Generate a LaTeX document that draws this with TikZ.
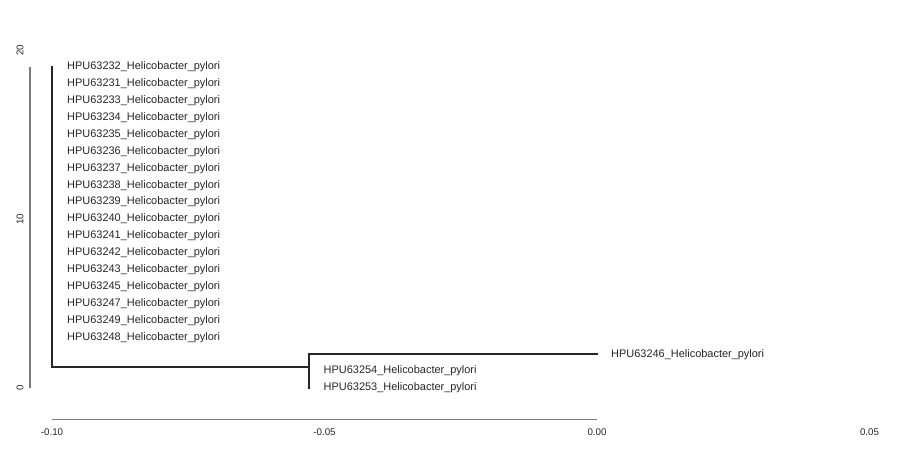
\documentclass[tikz,border=0pt]{standalone}
\usepackage{fontspec}
\setmainfont{Liberation Sans}
\definecolor{treec}{HTML}{262626}
\definecolor{axisc}{HTML}{7A7A7A}
\definecolor{textc}{HTML}{262626}
\begin{document}
\begin{tikzpicture}[x=1bp,y=16.9bp,
  tree/.style={line width=2.2bp, draw=treec, line cap=rect},
  axisl/.style={line width=1.4bp, draw=axisc},
  tip/.style={anchor=west, inner sep=0pt, font=\fontsize{11}{13}\selectfont, text=textc},
  tick/.style={inner sep=0pt, font=\fontsize{9.8}{12}\selectfont, text=textc}]
\useasboundingbox (0,-3.669) rectangle (921,22.959);
% y axis
\coordinate (ya0) at (30,0);
\coordinate (ya1) at (30,19);
\draw[axisl] (ya0) -- (ya1);
\node[tick,rotate=90] (yl0) at (20,0) {0};
\node[tick,rotate=90] (yl10) at (20,10) {10};
\node[tick,rotate=90] (yl20) at (20,20) {20};
% x axis
\coordinate (xa0) at (52,-1.852);
\coordinate (xa1) at (597,-1.852);
\draw[axisl] (xa0) -- (xa1);
\node[tick] (xl1) at (52,-2.604) {-0.10};
\node[tick] (xl2) at (324.5,-2.604) {-0.05};
\node[tick] (xl3) at (597,-2.604) {0.00};
\node[tick] (xl4) at (869.5,-2.604) {0.05};
% tree nodes
\coordinate (root) at (52,1.25);
\coordinate (rtop) at (52,19);
\coordinate (nA) at (309,1.25);
\coordinate (nAt) at (309,2);
\coordinate (nAb) at (309,0.5);
\coordinate (nBt) at (309,1);
\coordinate (nBb) at (309,0);
\coordinate (t246) at (597,2);
\draw[tree] (rtop) -- (root) -- (nA);
\draw[tree] (nAt) -- (nAb);
\draw[tree] (nBt) -- (nBb);
\draw[tree] (nAt) -- (t246);
% tip labels
\foreach \id/\v in {63232/19,63231/18,63233/17,63234/16,63235/15,63236/14,63237/13,63238/12,63239/11,63240/10,63241/9,63242/8,63243/7,63245/6,63247/5,63249/4,63248/3}{
  \node[tip] (L\id) at (67,\v) {HPU\id\_Helicobacter\_pylori};
}
\node[tip] (L63246) at (611,2) {HPU63246\_Helicobacter\_pylori};
\node[tip] (L63254) at (323.5,1) {HPU63254\_Helicobacter\_pylori};
\node[tip] (L63253) at (323.5,0) {HPU63253\_Helicobacter\_pylori};
\end{tikzpicture}
\end{document}
